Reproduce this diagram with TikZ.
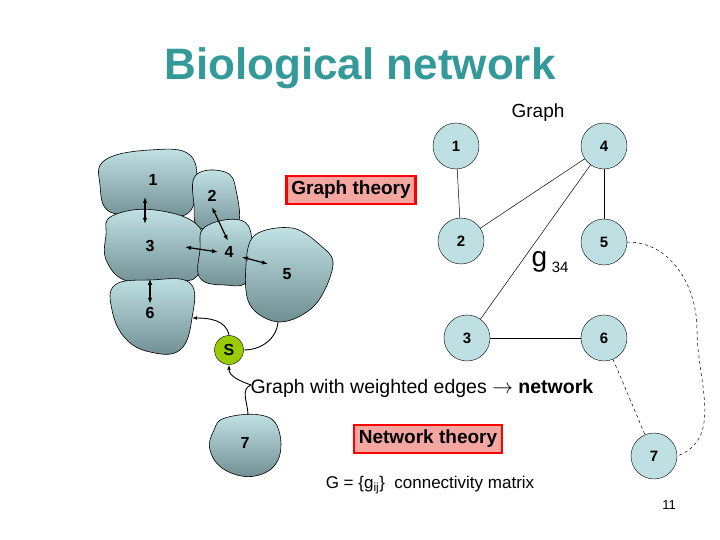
\documentclass[tikz,border=0pt]{standalone}
\usepackage{fontspec}
\setmainfont{Liberation Sans}
\usetikzlibrary{positioning, arrows.meta, calc}
\definecolor{titleteal}{HTML}{339999}
\definecolor{nodecyan}{HTML}{BFE0E2}
\definecolor{blobtop}{HTML}{C2E3E6}
\definecolor{blobbot}{HTML}{6F8E92}
\definecolor{boxpink}{HTML}{F4A6A0}
\definecolor{sgreen}{HTML}{99CC00}
\tikzset{
  gnode/.style={circle, draw, fill=nodecyan, minimum size=46pt, inner sep=0pt, font=\bfseries\fontsize{15}{15}\selectfont},
  gedge/.style={draw, line width=0.5pt},
  wedge/.style={draw, dashed, line width=0.5pt},
  blob/.style={draw, line width=0.6pt, top color=blobtop, bottom color=blobbot},
  blab/.style={font=\bfseries\fontsize{16}{16}\selectfont},
  link/.style={{Latex[length=6pt]}-{Latex[length=6pt]}, line width=1.2pt},
  theory/.style={draw=red, line width=2.5pt, fill=boxpink, inner sep=5pt, font=\bfseries\fontsize{19}{19}\selectfont}
}
\begin{document}
\begin{tikzpicture}[x=1pt, y=-1pt]
\useasboundingbox (0,0) rectangle (720,540);
\fill[white] (0,0) rectangle (720,540);

% title
\node (title) [text=titleteal, font=\bfseries\fontsize{44}{44}\selectfont] at (360,68) {Biological network};

% blobs
\path[blob] plot[smooth cycle, tension=0.7] coordinates {(105,160) (150,150) (190,155) (196,190) (185,215) (150,212) (110,212) (100,185)};
\path[blob] plot[smooth cycle, tension=0.7] coordinates {(196,175) (225,172) (236,190) (236,228) (200,228) (194,205)};
\path[blob] plot[smooth cycle, tension=0.7] coordinates {(112,216) (155,210) (200,228) (200,270) (180,282) (130,282) (107,262) (106,235)};
\path[blob] plot[smooth cycle, tension=0.7] coordinates {(205,227) (240,220) (252,240) (248,280) (225,285) (200,278) (200,250)};
\path[blob] plot[smooth cycle, tension=0.6] coordinates {(255,235) (292,228) (320,245) (333,265) (315,305) (280,322) (250,305) (246,265)};
\path[blob] plot[smooth cycle, tension=0.7] coordinates {(115,285) (150,280) (190,283) (192,318) (180,350) (150,352) (125,338) (112,310)};
\path[blob] plot[smooth cycle, tension=0.7] coordinates {(225,418) (260,415) (278,428) (278,460) (255,476) (225,470) (210,450) (214,430)};

\node (b1) [blab] at (153,180) {1};
\node (b2) [blab] at (212,196) {2};
\node (b3) [blab] at (150,246) {3};
\node (b4) [blab] at (229,252) {4};
\node (b5) [blab] at (287,274) {5};
\node (b6) [blab] at (150,313) {6};
\node (b7) [blab] at (245,443) {7};

\draw[link] (145,197) -- (145,224);
\draw[link] (212,207) -- (228,241);
\draw[link] (185,247) -- (218,252);
\draw[link] (242,257) -- (268,264);
\draw[link] (b6.north) ++(0,-25) -- (b6.north);

% S
\node (s) [circle, draw, fill=sgreen, minimum size=29pt, inner sep=0pt, font=\bfseries\fontsize{16}{16}\selectfont] at (229,350) {S};
\coordinate (in6) at (192,318);
\coordinate (in5) at (278,322);
\draw[-{Latex[length=5pt]}, line width=0.9pt] (s.north) to[out=100, in=0] (in6);
\draw[line width=0.9pt] (s.east) to[out=0, in=-95] (in5);
\node (weighted) [anchor=west, font=\fontsize{19.5}{19.5}\selectfont] at (247,388) {Graph with weighted edges $\rightarrow$ \textbf{network}};
\draw[-{Latex[length=5pt]}, line width=0.9pt] (weighted.west) ++(4,-3) to[out=160, in=-90] (s.south);
\draw[line width=0.9pt] (weighted.west) ++(4,-3) to[out=200, in=90] (248,415);

% theory boxes
\node (gtheory) [theory] at (351,190) {Graph theory};
\node (ntheory) [theory] at (428,439) {Network theory};
\node (matrix) [font=\fontsize{17}{17}\selectfont] at (430,485) {G = \{g\textsubscript{ij}\}\ \ connectivity matrix};

% graph
\node (glabel) [font=\fontsize{19}{19}\selectfont] at (538,113) {Graph};
\node (n1) [gnode] at (456,146) {1};
\node (n4) [gnode] at (604,146) {4};
\node (n2) [gnode] at (461,241) {2};
\node (n5) [gnode] at (604,242) {5};
\node (n3) [gnode] at (467,338) {3};
\node (n6) [gnode] at (604,338) {6};
\node (n7) [gnode] at (654,456) {7};
\node (g34) [font=\fontsize{28}{28}\selectfont] at (550,262) {g\,\fontsize{15}{15}\selectfont\raisebox{-6pt}{34}};

\path[gedge] (n1) -- (n2);
\path[gedge] (n4) -- (n2);
\path[gedge] (n4) -- (n3);
\path[gedge] (n4) -- (n5);
\path[gedge] (n3) -- (n6);
\path[wedge] (n6) -- (n7);
\path[wedge] (n5.east) to[out=0, in=90] (697,330) to[out=-90, in=20] (n7.east);

\node (page) [font=\fontsize{13}{13}\selectfont] at (669,505) {11};
\end{tikzpicture}
\end{document}
